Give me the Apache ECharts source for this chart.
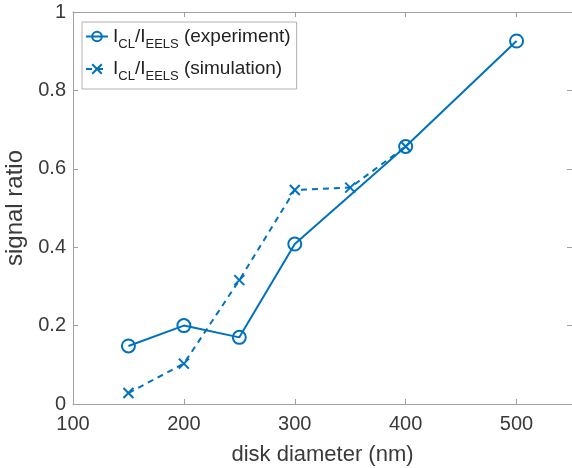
<!DOCTYPE html>
<html>
<head>
<meta charset="utf-8">
<script src="https://cdn.jsdelivr.net/npm/echarts@6/dist/echarts.min.js"></script>
<style>
html, body { margin: 0; padding: 0; background: #fff; }
#chart { width: 572px; height: 468px; }
</style>
</head>
<body>
<div id="chart"></div>
<script>
// disk diameter (nm) vs. CL/EELS signal ratio
var expDiameter = [150, 200, 250, 300, 400, 500];
var expRatio = [0.148, 0.200, 0.170, 0.408, 0.657, 0.926];
var simDiameter = [150, 200, 250, 300, 350, 400];
var simRatio = [0.028, 0.103, 0.316, 0.546, 0.552, 0.657];

var expName = 'I{sub|CL}/I{sub|EELS} (experiment)';
var simName = 'I{sub|CL}/I{sub|EELS} (simulation)';

var BLUE = '#0072BD';
var AXIS = '#a0a0a0';
var TEXT = '#3a3a3a';
var FONT = 'Liberation Sans';

function pairs(xs, ys) {
    var out = [];
    for (var i = 0; i < xs.length; i++) {
        out.push([xs[i], ys[i]]);
    }
    return out;
}

// top / right axes only close the box (ticks inside, no labels)
function boxAxis(pos, min, max, interval) {
    return {
        type: 'value',
        position: pos,
        min: min,
        max: max,
        interval: interval,
        axisLine: {show: true, onZero: false, lineStyle: {color: AXIS, width: 1}},
        axisTick: {show: true, inside: true, length: 5, lineStyle: {color: AXIS}},
        axisLabel: {show: false},
        splitLine: {show: false}
    };
}

var option = {
    animation: false,
    backgroundColor: '#fff',
    textStyle: {fontFamily: FONT},
    grid: {left: 73, top: 12, right: 0, bottom: 64, outerBoundsMode: 'none', containLabel: false},
    legend: {
        left: 82,
        top: 22,
        orient: 'vertical',
        backgroundColor: '#fff',
        borderColor: '#b0b0b0',
        borderWidth: 1,
        borderRadius: 0,
        padding: [5, 6, 6, 3],
        itemGap: 9,
        itemWidth: 22,
        itemHeight: 12,
        textStyle: {
            fontFamily: FONT,
            fontSize: 19,
            color: '#222',
            rich: {
                sub: {fontSize: 13, fontFamily: FONT, color: '#222', padding: [15, 0, 0, 0]}
            }
        },
        data: [expName, simName]
    },
    xAxis: [{
        type: 'value',
        min: 100,
        max: 550,
        interval: 100,
        name: 'disk diameter (nm)',
        nameLocation: 'middle',
        nameGap: 40,
        nameTextStyle: {fontSize: 22, color: TEXT, fontFamily: FONT},
        axisLine: {show: true, onZero: false, lineStyle: {color: AXIS, width: 1}},
        axisTick: {show: true, inside: true, length: 5, lineStyle: {color: AXIS}},
        axisLabel: {fontSize: 20, color: TEXT, margin: 10, fontFamily: FONT,
            formatter: function (v) { return v % 100 === 0 ? String(v) : ''; }},
        splitLine: {show: false}
    }, boxAxis('top', 100, 550, 100)],
    yAxis: [{
        type: 'value',
        min: 0,
        max: 1,
        interval: 0.2,
        name: 'signal ratio',
        nameLocation: 'middle',
        nameGap: 44,
        nameTextStyle: {fontSize: 24, color: TEXT, fontFamily: FONT},
        axisLine: {show: true, onZero: false, lineStyle: {color: AXIS, width: 1}},
        axisTick: {show: true, inside: true, length: 5, lineStyle: {color: AXIS}},
        axisLabel: {fontSize: 20, color: TEXT, margin: 7, fontFamily: FONT},
        splitLine: {show: false}
    }, boxAxis('right', 0, 1, 0.2)],
    series: [{
        name: expName,
        type: 'line',
        data: pairs(expDiameter, expRatio),
        symbol: 'circle',
        symbolSize: 13,
        showAllSymbol: true,
        color: BLUE,
        lineStyle: {color: BLUE, width: 2},
        itemStyle: {color: 'transparent', borderColor: BLUE, borderWidth: 2}
    }, {
        name: simName,
        type: 'line',
        data: pairs(simDiameter, simRatio),
        symbol: 'path://M0,0L10,10M10,0L0,10',
        symbolSize: 10,
        showAllSymbol: true,
        color: BLUE,
        lineStyle: {color: BLUE, width: 2, type: [6, 5]},
        itemStyle: {color: BLUE, borderColor: BLUE, borderWidth: 2}
    }]
};

var myChart = echarts.init(document.getElementById('chart'));
myChart.setOption(option);
</script>
</body>
</html>
